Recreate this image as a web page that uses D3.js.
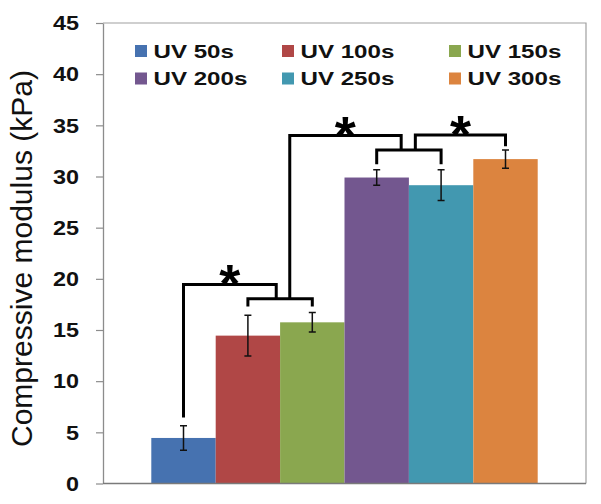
<!DOCTYPE html>
<html>
<head>
<meta charset="utf-8">
<script src="https://cdn.jsdelivr.net/npm/d3@7"></script>
<style>
  html, body { margin: 0; padding: 0; background: #fff; }
  svg { display: block; }
  text { font-family: Arial, "Liberation Sans", sans-serif; }
</style>
</head>
<body>
<svg id="chart" width="601" height="504"></svg>
<script>
// ---- data ----
const categories = ["UV 50s", "UV 100s", "UV 150s", "UV 200s", "UV 250s", "UV 300s"];
const values = [4.45, 14.45, 15.75, 29.9, 29.15, 31.7];
const errors = [1.2, 2.0, 0.95, 0.75, 1.5, 0.9];
const colors = ["#4672B0", "#B04746", "#8AA74F", "#73578F", "#4298B0", "#DC843F"];
const yTicks = [0, 5, 10, 15, 20, 25, 30, 35, 40, 45];
const yLabel = "Compressive modulus (kPa)";
// significance brackets: x positions in category index units, heights in kPa
// [x1, x2, yTop, yLeftEnd, yRightEnd]
const brackets = [
  [1, 2, 18.05, 17.3, 17.3],
  [0, 1.44, 19.45, 6.45, 18.05],
  [3, 4, 32.6, 31.2, 31.2],
  [1.65, 3.38, 34.0, 18.05, 32.6],
  [3.6, 5, 34.05, 32.6, 32.95]
];
const stars = [ [0.72, 19.45], [2.51, 34.0], [4.3, 34.05] ];

// ---- layout ----
const svg = d3.select("#chart");
const mLeft = 103, mRight = 586, mTop = 23, mBottom = 483.5;

const x = d3.scaleBand().domain(categories).range([mLeft, mRight])
  .paddingInner(0).paddingOuter(0.75);
const y = d3.scaleLinear().domain([0, 45]).range([mBottom, mTop]);
const px = f => x(categories[0]) + (f + 0.5) * x.step();

// frame (top / right)
svg.append("path")
  .attr("d", `M${mLeft},${mTop}H${mRight}V${mBottom}`)
  .attr("fill", "none").attr("stroke", "#a0a0a0").attr("stroke-width", 1.2);

// bars
svg.append("g").selectAll("rect").data(categories).join("rect")
  .attr("x", d => x(d))
  .attr("y", (d, i) => y(values[i]))
  .attr("width", x.bandwidth())
  .attr("height", (d, i) => y(0) - y(values[i]))
  .attr("fill", (d, i) => colors[i]);

// error bars
const eg = svg.append("g").attr("stroke", "#111").attr("stroke-width", 1.5).attr("fill", "none");
categories.forEach((c, i) => {
  const cx = x(c) + x.bandwidth() / 2;
  const y1 = y(values[i] + errors[i]), y2 = y(values[i] - errors[i]);
  eg.append("path").attr("d",
    `M${cx},${y1}V${y2}M${cx - 3.5},${y1}H${cx + 3.5}M${cx - 3.5},${y2}H${cx + 3.5}`);
});

// y axis
const tickSX = 1.2, tickOff = 24;
const yAxis = svg.append("g").attr("transform", `translate(${mLeft},0)`)
  .call(d3.axisLeft(y).tickValues(yTicks).tickSize(7).tickPadding(17).tickSizeOuter(0));
yAxis.select(".domain").attr("stroke", "#8c8c8c").attr("stroke-width", 1.3);
yAxis.selectAll(".tick line").attr("stroke", "#8c8c8c").attr("stroke-width", 1.2);
yAxis.selectAll(".tick text")
  .attr("font-size", 19.5).attr("font-weight", "bold").attr("fill", "#111")
  .attr("font-family", "Arial, 'Liberation Sans', sans-serif")
  .attr("x", -tickOff / tickSX)
  .attr("transform", `scale(${tickSX},1)`)
  .attr("dy", "0.35em");

// x axis line
svg.append("line").attr("x1", mLeft).attr("x2", mRight).attr("y1", y(0)).attr("y2", y(0))
  .attr("stroke", "#7a7a7a").attr("stroke-width", 1.5);

// y label
svg.append("text")
  .attr("transform", `translate(32,${(70 + 447) / 2}) rotate(-90)`)
  .attr("text-anchor", "middle")
  .attr("font-size", 30).attr("fill", "#111")
  .attr("textLength", 377).attr("lengthAdjust", "spacingAndGlyphs")
  .text(yLabel);

// brackets
const bg = svg.append("g").attr("stroke", "#000").attr("stroke-width", 3).attr("fill", "none")
  .attr("stroke-linejoin", "miter");
brackets.forEach(b => {
  bg.append("path").attr("d",
    `M${px(b[0])},${y(b[3])}V${y(b[2])}H${px(b[1])}V${y(b[4])}`);
});
const fsStar = 54;
svg.append("g").selectAll("text").data(stars).join("text")
  .attr("x", d => px(d[0]))
  .attr("y", d => y(d[1]) - 12 + fsStar * 0.555)
  .attr("text-anchor", "middle")
  .attr("font-size", fsStar).attr("font-weight", "bold").attr("fill", "#000")
  .text("*");

// legend
const colX = [135, 282, 449];
const rowY = [45, 72.5];
const lg = svg.append("g");
categories.forEach((c, i) => {
  const col = i % 3, row = Math.floor(i / 3);
  lg.append("rect").attr("x", colX[col]).attr("y", rowY[row]).attr("width", 12).attr("height", 12)
    .attr("fill", colors[i]);
  lg.append("text")
    .attr("transform", `translate(${colX[col] + 18.5},${rowY[row] + 12.5}) scale(1.27,1)`)
    .attr("font-size", 19).attr("font-weight", "bold").attr("fill", "#111")
    .text(c);
});
</script>
</body>
</html>
